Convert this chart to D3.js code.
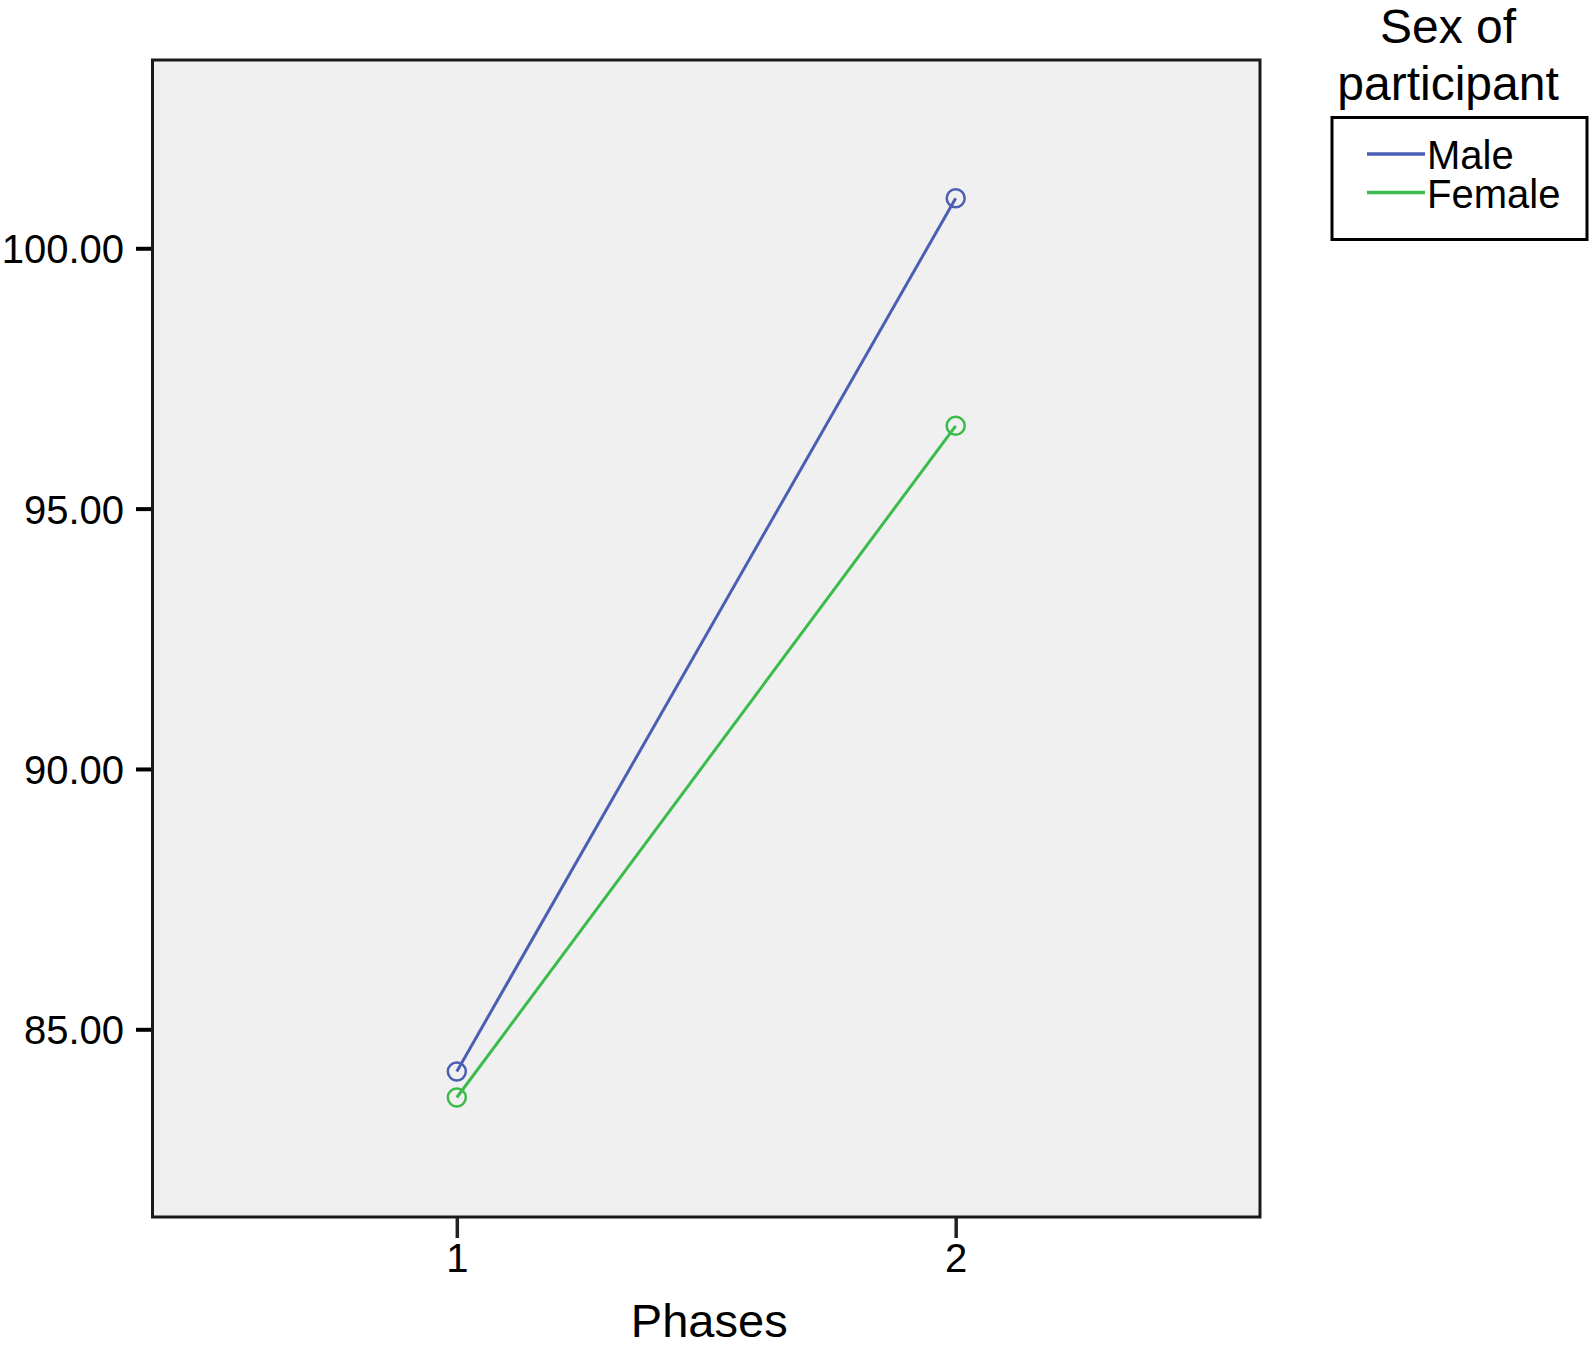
<!DOCTYPE html>
<html>
<head>
<meta charset="utf-8">
<script src="https://cdn.jsdelivr.net/npm/d3@7"></script>
<style>
  html, body { margin: 0; padding: 0; background: #fff; }
  svg { display: block; font-family: "Liberation Sans", Arial, Helvetica, sans-serif; }
</style>
</head>
<body>
<svg id="chart" width="1591" height="1349"></svg>
<script>
const phases = [1, 2];
const seriesNames = ["Male", "Female"];
const maleValues = [84.19, 100.96];
const femaleValues = [83.69, 96.59];
const yTicks = [85, 90, 95, 100];
const colors = ["#4a5fb3", "#3bbb4a"];
const xLabel = "Phases";
const legendTitle = ["Sex of", "participant"];

const series = [
  { name: seriesNames[0], values: maleValues, color: colors[0] },
  { name: seriesNames[1], values: femaleValues, color: colors[1] }
];

const svg = d3.select("#chart");
const L = 152.5, R = 1260, T = 60, B = 1217;

const x = d3.scalePoint().domain(phases).range([L, R]).padding(0.61);
const y = d3.scaleLinear().domain([81.395, 103.616]).range([B, T]);

// plot background
svg.append("rect").attr("x", L).attr("y", T).attr("width", R - L).attr("height", B - T)
  .attr("fill", "#f0f0f0");

// lines
const line = d3.line().x((d, i) => x(phases[i])).y(d => y(d));
series.forEach(s => {
  svg.append("path").datum(s.values).attr("d", line)
    .attr("fill", "none").attr("stroke", s.color).attr("stroke-width", 3);
  svg.selectAll(null).data(s.values).enter().append("circle")
    .attr("cx", (d, i) => x(phases[i])).attr("cy", d => y(d)).attr("r", 9)
    .attr("fill", "none").attr("stroke", s.color).attr("stroke-width", 2.5);
});

// frame
svg.append("rect").attr("x", L).attr("y", T).attr("width", R - L).attr("height", B - T)
  .attr("fill", "none").attr("stroke", "#1a1a1a").attr("stroke-width", 3);

// y axis
const yAxis = d3.axisLeft(y).tickValues(yTicks).tickFormat(d3.format(".2f"))
  .tickSize(15).tickPadding(12);
const gy = svg.append("g").attr("transform", `translate(${L - 1.5},0)`).call(yAxis);
gy.select(".domain").remove();
gy.selectAll(".tick line").attr("stroke", "#000").attr("stroke-width", 4);
gy.selectAll(".tick text").attr("font-size", 40).attr("fill", "#000")
  .attr("font-family", "Liberation Sans, Arial, sans-serif").attr("dy", "0.36em");

// x axis
const xAxis = d3.axisBottom(x).tickSize(20).tickPadding(6);
const gx = svg.append("g").attr("transform", `translate(0,${B + 1})`).call(xAxis);
gx.select(".domain").remove();
gx.selectAll(".tick line").attr("stroke", "#222").attr("stroke-width", 3.5);
gx.selectAll(".tick text").attr("font-size", 40).attr("fill", "#000")
  .attr("font-family", "Liberation Sans, Arial, sans-serif");

// x label
svg.append("text").attr("x", (L + R) / 2 + 3).attr("y", 1337).attr("text-anchor", "middle")
  .attr("font-size", 47).attr("fill", "#000").text(xLabel);

// legend
const lgCx = 1448;
legendTitle.forEach((t, i) => {
  svg.append("text").attr("x", lgCx).attr("y", 43 + i * 57).attr("text-anchor", "middle")
    .attr("font-size", 48).attr("fill", "#000").text(t);
});
svg.append("rect").attr("x", 1332).attr("y", 117.5).attr("width", 255).attr("height", 122)
  .attr("fill", "#fff").attr("stroke", "#000").attr("stroke-width", 3);
series.forEach((s, i) => {
  const yy = 154 + i * 38.5;
  svg.append("line").attr("x1", 1367).attr("x2", 1425).attr("y1", yy).attr("y2", yy)
    .attr("stroke", s.color).attr("stroke-width", 3.5);
  svg.append("text").attr("x", 1427).attr("y", yy + 15).attr("font-size", 40)
    .attr("fill", "#000").text(s.name);
});
</script>
</body>
</html>
